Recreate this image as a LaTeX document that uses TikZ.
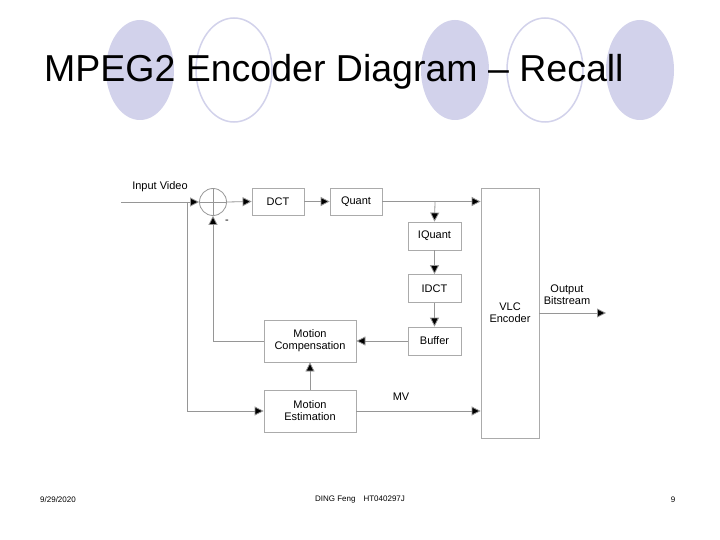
\documentclass[tikz,border=0pt]{standalone}
\usepackage{fontspec}
\setmainfont{Liberation Sans}
\usetikzlibrary{arrows.meta}
\definecolor{circ}{RGB}{210,210,235}
\definecolor{ln}{RGB}{150,150,150}
\begin{document}
\begin{tikzpicture}[x=1pt,y=-1pt,
 box/.style={draw=ln!80,line width=0.8pt,inner sep=0pt,font=\fontsize{11}{12}\selectfont,align=center,fill=white},
 con/.style={draw=ln,line width=0.8pt},
 arr/.style={con,-{Triangle[length=9pt,width=9pt,fill=black]}},
 lbl/.style={font=\fontsize{11}{12}\selectfont,align=center,inner sep=0pt}]
\useasboundingbox (0,0) rectangle (720,540);
\fill[white] (0,0) rectangle (720,540);
% decorative circles
\fill[circ] (140,70) ellipse (34 and 50);
\draw[circ,line width=1.5pt] (234,70) ellipse (38 and 52);
\fill[circ] (455,70) ellipse (34 and 50);
\draw[circ,line width=1.5pt] (545,70) ellipse (38 and 52);
\fill[circ] (640,70) ellipse (34 and 50);
\node[anchor=base west,inner sep=0pt,font=\fontsize{37.5}{40}\selectfont] (title) at (44,82) {MPEG2 Encoder Diagram – Recall};
% blocks
\node[box,minimum width=52,minimum height=27] (dct) at (278,201.5) {DCT};
\node[box,minimum width=52,minimum height=27] (quant) at (356,201.5) {Quant};
\node[box,minimum width=58,minimum height=250] (vlc) at (510,313) {VLC\\Encoder};
\node[box,minimum width=53,minimum height=28] (iq) at (434.5,236) {IQuant};
\node[box,minimum width=53,minimum height=28] (idct) at (434.5,288.5) {IDCT};
\node[box,minimum width=53,minimum height=28] (buf) at (434.5,341) {Buffer};
\node[box,minimum width=92,minimum height=42] (mc) at (310,341) {Motion\\Compensation};
\node[box,minimum width=92,minimum height=42] (me) at (310,411) {Motion\\Estimation};
\node[draw=ln,line width=0.8pt,circle,minimum size=27,inner sep=0pt] (sum) at (213,202) {};
\draw[ln,line width=0.6pt] (sum.north)--(sum.south) (sum.west)--(sum.east);
\coordinate (in) at (121,202);
\coordinate (br) at (187,202);
\coordinate (qb) at (435,202);
\coordinate (out) at (606,313);
\node[lbl] (inl) at (160,187) {Input Video};
\node[lbl] (minus) at (227,222) {-};
\node[lbl] (mv) at (401,397) {MV};
\node[lbl] (outl) at (567,295) {Output\\Bitstream};
% connectors
\draw[arr] (in) -- (sum.west);
\draw[arr] (sum.east) -- (dct.west);
\draw[arr] (dct.east) -- (quant.west);
\draw[arr] (quant.east) -- (vlc.west |- quant.east);
\draw[arr] (qb) -- (iq.north);
\draw[arr] (iq.south) -- (idct.north);
\draw[arr] (idct.south) -- (buf.north);
\draw[arr] (buf.west) -- (mc.east);
\draw[arr] (mc.west) -| (sum.south);
\draw[arr] (br) |- (me.west);
\draw[arr] (me.north) -- (mc.south);
\draw[arr] (me.east) -- (vlc.west |- me.east);
\draw[arr] (vlc.east |- out) -- (out);
% footer
\node[lbl,font=\fontsize{8}{9}\selectfont] (date) at (58,500) {9/29/2020};
\node[lbl,font=\fontsize{8}{9}\selectfont] (auth) at (360,500) {DING Feng\quad HT040297J};
\node[lbl,font=\fontsize{8}{9}\selectfont] (pg) at (673,500) {9};
\end{tikzpicture}
\end{document}
